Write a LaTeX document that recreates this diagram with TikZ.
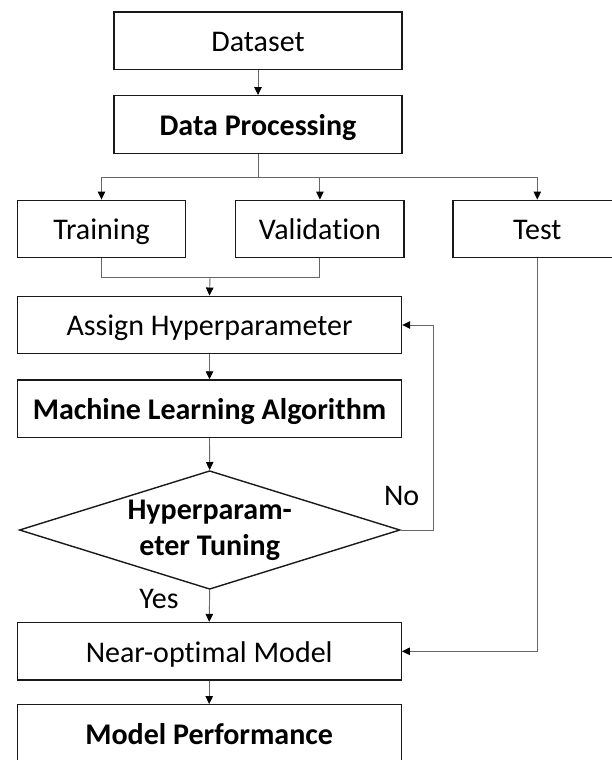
\documentclass[tikz,border=0pt]{standalone}
\usepackage{fontspec}
\setmainfont{Carlito}[Ligatures=NoCommon]
\usetikzlibrary{shapes.geometric,arrows.meta}
\begin{document}
\begin{tikzpicture}[x=1pt,y=-1pt,
  box/.style={draw=black!90,line width=1.4pt,rectangle,inner sep=0pt,
    minimum height=57.5pt,text height=25pt,text depth=3.4pt,
    font=\fontsize{30}{36}\selectfont,anchor=center},
  wide/.style={box,minimum width=384pt},
  small/.style={box,minimum width=168.4pt},
  dec/.style={draw=black!90,line width=1.4pt,diamond,inner sep=0pt,aspect=3.21,
    minimum width=380.7pt,minimum height=118.6pt,align=center,
    font=\fontsize{30}{36}\selectfont\bfseries},
  conn/.style={draw=black!60,line width=0.9pt},
  arr/.style={conn,-{Triangle[length=8pt,width=7.5pt,color=black]}},
  lbl/.style={font=\fontsize{30}{36}\selectfont,inner sep=0pt}]
\useasboundingbox (0,0) rectangle (611,760);
\node[box,minimum width=288pt] (ds) at (258,40.7) {Dataset};
\node[box,minimum width=288pt,font=\fontsize{30}{36}\selectfont\bfseries] (dp) at (258,124.5) {Data Processing};
\node[small] (tr) at (101.5,229) {Training};
\node[small] (va) at (319.9,229) {Validation};
\node[small] (te) at (537.3,229) {Test};
\node[wide] (ah) at (209.5,325) {Assign Hyperparameter};
\node[wide,font=\fontsize{30}{36}\selectfont\bfseries] (ml) at (209.5,408.7) {Machine Learning Algorithm};
\node[dec] (ht) at (209.7,530) {Hyperparam-\\eter Tuning};
\node[wide] (nm) at (209.2,651.3) {Near-optimal Model};
\node[wide,font=\fontsize{30}{36}\selectfont\bfseries] (mp) at (209.2,733.5) {Model Performance};
\node[lbl] (no) at (401.7,496) {No};
\node[lbl] (yes) at (159,599) {Yes};
\coordinate (sp) at (258,177.3);
\coordinate (mg) at (210,277.3);
\draw[arr] (ds.south) -- (dp.north);
\draw[conn] (dp.south) -- (sp);
\draw[arr] (sp) -| (tr.north);
\draw[arr] (sp) -| (va.north);
\draw[arr] (sp) -| (te.north);
\draw[conn] (tr.south) |- (mg);
\draw[conn] (va.south) |- (mg);
\draw[arr] (mg) -- (ah.north);
\draw[arr] (ah.south) -- (ml.north);
\draw[arr] (ml.south) -- (ht.north);
\draw[arr] (ht.south) -- (nm.north);
\draw[arr] (nm.south) -- (mp.north);
\draw[arr] (ht.east) -- ++(32.7,0) |- (ah.east);
\draw[arr] (te.south) |- (nm.east);
\end{tikzpicture}
\end{document}
